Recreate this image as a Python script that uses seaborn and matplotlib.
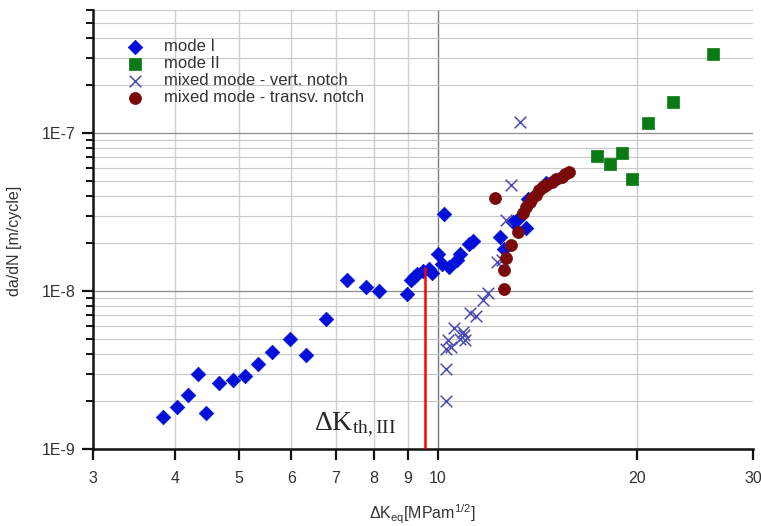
import numpy as np
import pandas as pd
import seaborn as sns
import matplotlib.pyplot as plt
from matplotlib.ticker import FixedLocator, FuncFormatter, NullFormatter, LogLocator

# datos
mode1_dk = [3.84, 4.03, 4.18, 4.33, 4.45, 4.66, 4.89, 5.10, 5.35, 5.60, 5.98, 6.32, 6.78,
            7.29, 7.79, 8.15, 8.99, 9.09, 9.20, 9.30, 9.50, 9.70, 9.80, 9.99, 10.15, 10.2,
            10.4, 10.7, 10.8, 11.15, 11.3, 12.4, 12.6, 13.0, 13.2, 13.6, 13.7, 14.3, 14.6]
mode1_da = [1.6e-9, 1.85e-9, 2.2e-9, 3.0e-9, 1.7e-9, 2.6e-9, 2.75e-9, 2.9e-9, 3.45e-9, 4.1e-9,
            5.0e-9, 3.95e-9, 6.6e-9, 1.17e-8, 1.06e-8, 1.0e-8, 9.6e-9, 1.18e-8, 1.22e-8, 1.28e-8,
            1.33e-8, 1.37e-8, 1.3e-8, 1.72e-8, 1.49e-8, 3.05e-8, 1.41e-8, 1.56e-8, 1.72e-8,
            1.98e-8, 2.08e-8, 2.2e-8, 1.85e-8, 2.75e-8, 2.85e-8, 2.5e-8, 3.8e-8, 4.5e-8, 4.8e-8]

mode2_dk = [17.4, 18.2, 19.0, 19.7, 20.8, 22.7, 26.1]
mode2_da = [7.2e-8, 6.4e-8, 7.5e-8, 5.1e-8, 1.15e-7, 1.56e-7, 3.16e-7]

vert_dk = [10.3, 10.3, 10.3, 10.35, 10.45, 10.57, 10.8, 10.95, 11.0, 10.9, 11.2, 11.4, 11.7,
           11.9, 12.3, 12.5, 12.7, 12.9, 13.3]
vert_da = [2.0e-9, 3.2e-9, 4.3e-9, 4.9e-9, 4.4e-9, 5.8e-9, 5.0e-9, 5.3e-9, 4.9e-9, 5.5e-9,
           7.3e-9, 6.9e-9, 8.8e-9, 9.7e-9, 1.53e-8, 1.56e-8, 2.8e-8, 4.7e-8, 1.18e-7]

transv_dk = [12.2, 12.6, 12.6, 12.7, 12.9, 13.2, 13.46, 13.6, 13.8, 13.9, 14.1, 14.2, 14.4,
             14.6, 14.9, 15.1, 15.4, 15.6, 15.8]
transv_da = [3.86e-8, 1.03e-8, 1.36e-8, 1.62e-8, 1.95e-8, 2.37e-8, 3.1e-8, 3.42e-8, 3.66e-8,
             3.87e-8, 4.06e-8, 4.37e-8, 4.53e-8, 4.69e-8, 4.92e-8, 5.1e-8, 5.3e-8, 5.5e-8, 5.7e-8]

umbral_dk = 9.55
umbral_da = 1.4e-8

sns.set_style("white")
plt.rcParams['font.family'] = ['Liberation Sans', 'DejaVu Sans']
plt.rcParams['mathtext.default'] = 'regular'

fig = plt.figure(figsize=(7.61, 5.26), dpi=100)
ax = fig.add_axes([0.1216, 0.1464, 0.868, 0.8346])
ax.set_xscale('log')
ax.set_yscale('log')
ax.set_xlim(3, 30)
ax.set_ylim(1e-9, 6e-7)

# rejilla
ax.yaxis.set_major_locator(FixedLocator([1e-9, 1e-8, 1e-7]))
ax.yaxis.set_minor_locator(LogLocator(base=10, subs=np.arange(2, 10)))
ax.yaxis.set_major_formatter(FuncFormatter(lambda v, p: "1E%d" % round(np.log10(v))))
ax.yaxis.set_minor_formatter(NullFormatter())
xt = [3, 4, 5, 6, 7, 8, 9, 10, 20, 30]
ax.xaxis.set_major_locator(FixedLocator(xt))
ax.xaxis.set_minor_locator(FixedLocator([]))
ax.xaxis.set_major_formatter(FuncFormatter(lambda v, p: "%d" % v))
ax.grid(True, which='major', axis='y', color='#8c8c8c', lw=0.9)
ax.grid(True, which='minor', axis='y', color='#c8c8c8', lw=0.8)
for v in xt[1:-1]:
    ax.axvline(v, color='#7a7a7a' if v == 10 else '#d0d0d0', lw=1.0, zorder=0)

sns.scatterplot(x=mode1_dk, y=mode1_da, ax=ax, marker='D', s=55, color='#0010d8',
                edgecolor='#0010d8', linewidth=0.5, label='mode I', zorder=3)
sns.scatterplot(x=mode2_dk, y=mode2_da, ax=ax, marker='s', s=70, color='#0a7a14',
                edgecolor='#0a7a14', linewidth=0.5, label='mode II', zorder=3)
sns.scatterplot(x=vert_dk, y=vert_da, ax=ax, marker='x', s=70, color='#4a4ab8',
                linewidth=1.1, label='mixed mode - vert. notch', zorder=4)
sns.scatterplot(x=transv_dk, y=transv_da, ax=ax, marker='o', s=75, color='#7a0a0a',
                edgecolor='#7a0a0a', linewidth=0.5, label='mixed mode - transv. notch', zorder=5)

ax.plot([umbral_dk, umbral_dk], [1e-9, umbral_da], color='red', lw=1.8, zorder=6)
ax.text(6.5, 1.32e-9, r'$\Delta$K$_{th,III}$', fontfamily='Liberation Serif', fontsize=20,
        ha='left', va='baseline', zorder=7)

sns.despine(ax=ax)
for s in ['left', 'bottom']:
    ax.spines[s].set_linewidth(1.8)
    ax.spines[s].set_color('#111111')
ax.tick_params(axis='both', which='major', direction='out', length=8, width=1.6,
               labelsize=11.5, labelcolor='#333333', color='#111111', left=True, bottom=True)
ax.tick_params(axis='y', which='minor', direction='out', length=5, width=1.4,
               color='#111111', left=True)
ax.tick_params(axis='x', pad=8)
ax.tick_params(axis='y', pad=4)

ax.set_ylabel('da/dN [m/cycle]', fontsize=11.5, color='#333333')
ax.yaxis.set_label_coords(-0.107, 0.474)
ax.set_xlabel(r'$\Delta$K$_{eq}$[MPam$^{1/2}$]', fontsize=11.5, color='#333333', labelpad=12)

leg = ax.legend(loc='upper left', bbox_to_anchor=(0.017, 0.967), frameon=False,
                fontsize=12, handletextpad=0.7, labelspacing=0.12)
for t in leg.get_texts():
    t.set_color('#333333')

plt.savefig('out.png', dpi=100)
